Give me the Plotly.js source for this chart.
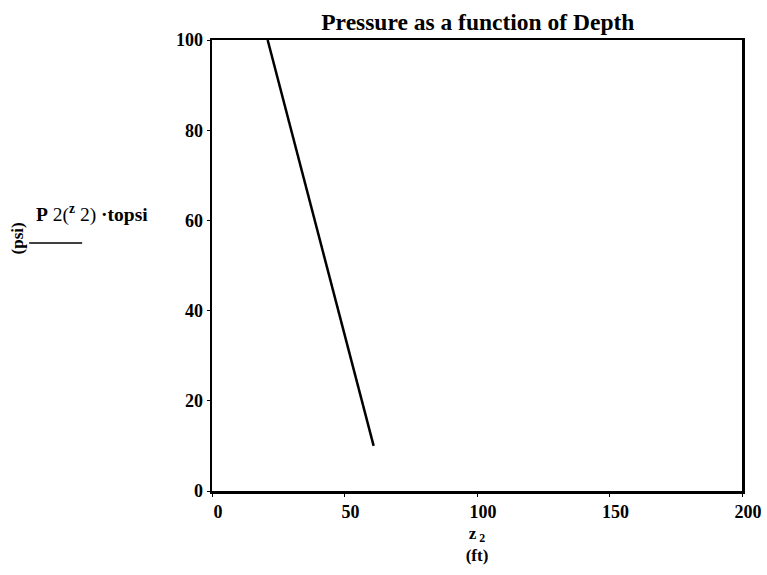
<!DOCTYPE html>
<html>
<head>
<meta charset="utf-8">
<script src="https://cdn.plot.ly/plotly-3.0.1.min.js"></script>
<style>html,body{margin:0;padding:0;background:#fff;}#chart{width:767px;height:575px;}</style>
</head>
<body>
<div id="chart"></div>
<script>
// Data
const depthFt = [21, 61];        // z2 (ft)
const pressurePsi = [100, 10];   // P2(z2)·topsi (psi)
const xTicks = [0, 50, 100, 150, 200];
const yTicks = [0, 20, 40, 60, 80, 100];

const serif = "Liberation Serif, Times New Roman, serif";

const trace = {
  x: depthFt,
  y: pressurePsi,
  type: "scatter",
  mode: "lines",
  line: {color: "#000", width: 2.5},
  hoverinfo: "skip",
  cliponaxis: true
};

const layout = {
  width: 767,
  height: 575,
  margin: {l: 212, r: 25, t: 40, b: 84},
  paper_bgcolor: "#fff",
  plot_bgcolor: "#fff",
  showlegend: false,
  title: {
    text: "<b>Pressure as a function of Depth</b>",
    font: {family: serif, size: 23.5, color: "#000"},
    x: 0.623, xanchor: "center",
    y: 0.962, yanchor: "middle"
  },
  xaxis: {
    range: [0, 200],
    tickvals: xTicks,
    ticktext: xTicks.map(v => "<b>" + v + "</b>"),
    showgrid: false,
    zeroline: false,
    showline: true,
    linecolor: "#000",
    linewidth: 2.5,
    mirror: true,
    ticks: "outside",
    ticklen: 3,
    tickcolor: "#000",
    ticklabelshift: 6,
    tickfont: {family: serif, size: 18, color: "#000"},
    title: {
      text: "<b>z<sub> 2</sub></b><br><b>(ft)</b>",
      font: {family: serif, size: 17, color: "#000"},
      standoff: 6
    }
  },
  yaxis: {
    range: [0, 100],
    tickvals: yTicks,
    ticktext: yTicks.map(v => "<b>" + v + "</b>"),
    showgrid: false,
    zeroline: false,
    showline: true,
    linecolor: "#000",
    linewidth: 2.5,
    mirror: true,
    ticks: "outside",
    ticklen: 3,
    tickcolor: "#000",
    tickfont: {family: serif, size: 18, color: "#000"}
  },
  annotations: [
    {
      text: "<b>(psi)</b>",
      xref: "paper", yref: "paper",
      x: -0.368, y: 0.56,
      xanchor: "center", yanchor: "middle",
      textangle: -90,
      showarrow: false,
      font: {family: serif, size: 17, color: "#000"}
    },
    {
      text: "<b>P</b> 2(<sup><b>z</b></sup> 2) <b>·topsi</b>",
      xref: "paper", yref: "paper",
      x: -0.335, y: 0.615,
      xanchor: "left", yanchor: "middle",
      showarrow: false,
      font: {family: serif, size: 19.5, color: "#000"}
    }
  ],
  shapes: [
    {
      type: "line", xref: "paper", yref: "paper",
      x0: -0.345, x1: -0.245, y0: 0.55, y1: 0.55,
      line: {color: "#000", width: 1.5}
    }
  ]
};

Plotly.newPlot("chart", [trace], layout, {displayModeBar: false, staticPlot: true});
</script>
</body>
</html>
